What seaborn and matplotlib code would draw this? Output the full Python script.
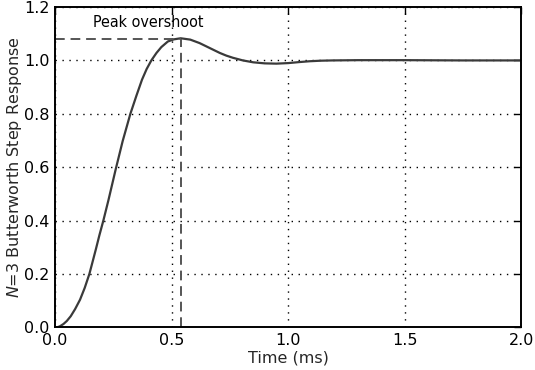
import matplotlib
matplotlib.use("Agg")
import matplotlib.pyplot as plt
import seaborn as sns
import pandas as pd

# Data
time_ms = [0.0, 0.01, 0.02, 0.036, 0.05, 0.067, 0.086, 0.107, 0.127, 0.147, 0.16,
           0.175, 0.19, 0.207, 0.229, 0.26, 0.29, 0.323, 0.349, 0.373, 0.393,
           0.413, 0.435, 0.456, 0.484, 0.51, 0.539, 0.58, 0.62, 0.66, 0.707,
           0.735, 0.763, 0.806, 0.85, 0.9, 0.95, 1.0, 1.05, 1.093, 1.14,
           1.19, 1.3, 1.5, 1.75, 2.0]
response = [0.0, 0.001, 0.004, 0.013, 0.024, 0.042, 0.069, 0.104, 0.148, 0.2, 0.243,
            0.293, 0.345, 0.4, 0.477, 0.592, 0.698, 0.8, 0.868, 0.928, 0.968,
            1.0, 1.028, 1.05, 1.071, 1.079, 1.083, 1.078, 1.065, 1.048, 1.028,
            1.018, 1.01, 1.0, 0.993, 0.989, 0.988, 0.99, 0.994, 0.997, 0.999,
            1.0, 1.001, 1.001, 1.0, 1.0]
peak_t = 0.54
peak_v = 1.081
x_ticks = [0.0, 0.5, 1.0, 1.5, 2.0]
y_ticks = [0.0, 0.2, 0.4, 0.6, 0.8, 1.0, 1.2]

df = pd.DataFrame({"t": time_ms, "y": response})

sns.set_style("white")
plt.rcParams['font.family'] = ['DejaVu Sans']

fig = plt.figure(figsize=(5.35, 3.7), dpi=100)
ax = fig.add_axes([0.103, 0.115, 0.871, 0.866])

sns.lineplot(data=df, x="t", y="y", ax=ax, color="#3a3a3a", linewidth=1.6)

dash_kw = dict(color="#555555", linewidth=1.4, linestyle=(0, (5, 3)))
ax.plot([0, peak_t], [peak_v, peak_v], **dash_kw)
ax.plot([peak_t, peak_t], [0, peak_v], **dash_kw)

ax.set_xlim(0, 2.0)
ax.set_ylim(0, 1.2)
ax.set_xticks(x_ticks)
ax.set_yticks(y_ticks)
ax.set_xticklabels([f"{v:.1f}" for v in x_ticks])
ax.set_yticklabels([f"{v:.1f}" for v in y_ticks])
ax.grid(True, color="black", linestyle=(0, (1, 4)), linewidth=1.0)
ax.tick_params(direction="in", length=5, width=1, labelsize=11.5,
               top=True, right=True, pad=4, colors="black")
for s in ax.spines.values():
    s.set_visible(True)
    s.set_color("black")
    s.set_linewidth(1.4)

ax.set_xlabel("Time (ms)", fontsize=11.5, labelpad=2)
ax.set_ylabel(r"$N$=3 Butterworth Step Response", fontsize=11.5, labelpad=0)

ax.text(0.163, 1.126, "Peak overshoot", fontsize=11.5, fontstretch="condensed",
        ha="left", va="baseline", color="black")

fig.savefig("out.png", dpi=100)
